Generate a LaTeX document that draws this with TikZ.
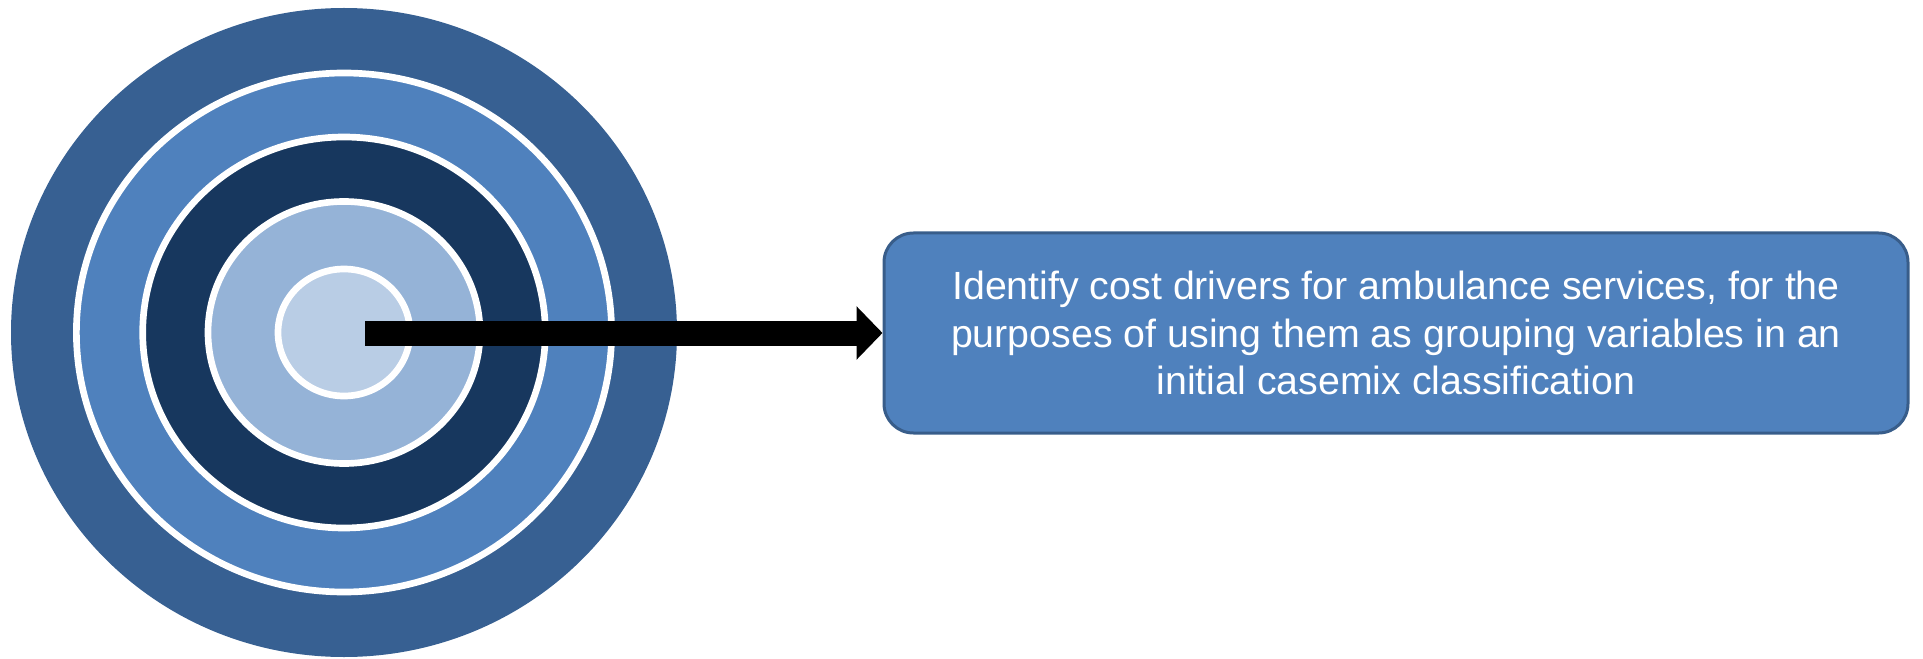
\documentclass[tikz,border=0pt]{standalone}
\usepackage{fontspec}
\setmainfont{Liberation Sans}
\usetikzlibrary{positioning,arrows.meta,shapes,calc}

\definecolor{ringOuter}{HTML}{376092}
\definecolor{ringMid}{HTML}{4F81BD}
\definecolor{ringNavy}{HTML}{17375E}
\definecolor{ringLight}{HTML}{95B3D7}
\definecolor{ringCore}{HTML}{B9CDE5}
\definecolor{boxLine}{HTML}{385D8A}

\tikzset{
    goalbox/.style={draw=boxLine,fill=ringMid,line width=2.25pt,rounded corners=22pt,
        minimum width=768pt,minimum height=150pt,text=white,align=center,
        font=\fontsize{29.5}{35.5}\selectfont},
    shot/.style={line width=18.75pt,-{Triangle[length=19.5pt,width=39pt]}}
}

\begin{document}
\begin{tikzpicture}[x=0.75pt,y=-0.75pt]
    \useasboundingbox (0,0) rectangle (1923,659);

    % Target rings
    \coordinate (bull) at (344,332.5);
    \fill[ringOuter] (bull) ellipse [x radius=333,y radius=324.5];
    \foreach \rx/\ry/\col in {267.6/259.5/ringMid, 201.3/195.5/ringNavy, 136/131/ringLight, 66/63.5/ringCore}
        \filldraw[fill=\col,draw=white,line width=5pt] (bull) ellipse [x radius=\rx,y radius=\ry];

    % Goal
    \node[goalbox] (goal) at (1396,333) {Identify cost drivers for ambulance services, for the\\
        purposes of using them as grouping variables in an\\
        initial casemix classification};

    % Arrow
    \coordinate (aim) at (365,333);
    \draw[shot] (aim) -- (goal.west);
\end{tikzpicture}
\end{document}
